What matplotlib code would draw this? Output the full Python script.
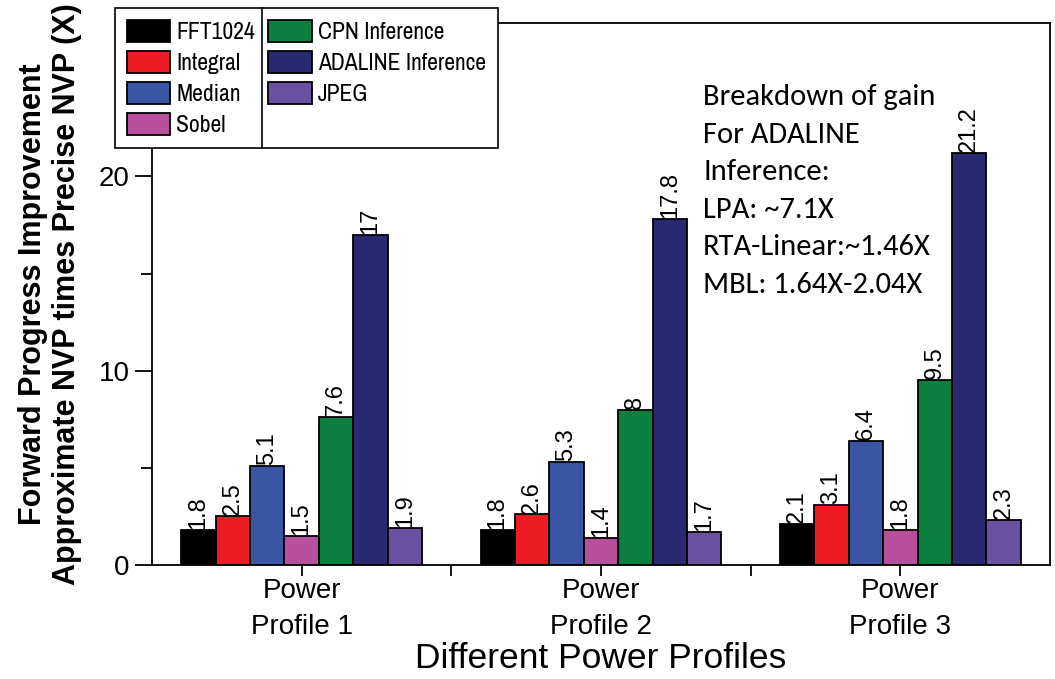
import matplotlib
matplotlib.use("Agg")
import matplotlib.pyplot as plt
import numpy as np
from matplotlib.lines import Line2D
from matplotlib import font_manager
from matplotlib.font_manager import FontProperties

plt.rcParams['font.family'] = ['Liberation Sans', 'DejaVu Sans']

profiles = ["Power\nProfile 1", "Power\nProfile 2", "Power\nProfile 3"]
series_names = ["FFT1024", "Integral", "Median", "Sobel",
                "CPN Inference", "ADALINE Inference", "JPEG"]
fft1024 = [1.8, 1.8, 2.1]
integral = [2.5, 2.6, 3.1]
median = [5.1, 5.3, 6.4]
sobel = [1.5, 1.4, 1.8]
cpn = [7.6, 8, 9.5]
adaline = [17, 17.8, 21.2]
jpeg = [1.9, 1.7, 2.3]
values = [fft1024, integral, median, sobel, cpn, adaline, jpeg]
colors = ["#000000", "#ED1C24", "#3A55A4", "#B9509E",
          "#0A7F3F", "#2A2A72", "#6A51A1"]
note = "Breakdown of gain\nFor ADALINE\nInference:\nLPA: ~7.1X\nRTA-Linear:~1.46X\nMBL: 1.64X-2.04X"

# legend font: condensed Arial-like if available
narrow = [f for f in font_manager.fontManager.ttflist
          if 'narrow' in f.name.lower() and f.style == 'normal'
          and f.weight in (400, 'normal', 'regular')]
if narrow:
    leg_prop = FontProperties(fname=narrow[0].fname, size=17)
else:
    leg_prop = FontProperties(family=['Liberation Sans', 'DejaVu Sans'], size=15)

names = {f.name for f in font_manager.fontManager.ttflist}
note_family = 'Carlito' if 'Carlito' in names else 'Lato'
note_size = 22 if note_family == 'Carlito' else 21.3

fig = plt.figure(figsize=(10.55, 6.79), dpi=100)
ax = fig.add_axes([152/1055, 1-565/679, (1050-152)/1055, (565-23)/679])

x = np.arange(1, 4)
w = 0.115
n = len(series_names)
for i, (name, vals, c) in enumerate(zip(series_names, values, colors)):
    pos = x + (i - (n - 1) / 2) * w
    ax.bar(pos, vals, width=w, color=c, edgecolor="black", linewidth=1.3, label=name)
    for p, v in zip(pos, vals):
        ax.text(p, v + 0.05, f"{v:g}", rotation=90, ha="center", va="bottom", fontsize=17)

ax.set_xlim(0.5, 3.5)
ax.set_ylim(0, 27.9)
ax.set_xticks(x)
ax.set_xticklabels(profiles, fontsize=20, linespacing=1.5)
ax.set_xticks([1.5, 2.5], minor=True)
ax.set_yticks([0, 10, 20])
ax.set_yticks([5, 15, 25], minor=True)
ax.tick_params(axis='y', labelsize=20, direction='out', length=12, width=1.3, pad=4)
ax.tick_params(axis='y', which='minor', direction='out', length=8, width=1.3)
ax.tick_params(axis='x', direction='out', length=8, width=1.3, pad=1)
ax.tick_params(axis='x', which='minor', direction='out', length=8, width=1.3)
for s in ax.spines.values():
    s.set_linewidth(1.3)

ax.set_ylabel("Forward Progress Improvement\nApproximate NVP times Precise NVP (X)",
              fontsize=22, fontweight='bold', linespacing=1.2, labelpad=12)
ax.set_xlabel("Different Power Profiles", fontsize=25.5, labelpad=2)

ax.text(703/1055, 1-84/679, note,
        transform=fig.transFigure, fontsize=note_size, family=[note_family, 'DejaVu Sans'],
        va='top', ha='left', linespacing=1.55)

leg = fig.legend(loc='upper left', bbox_to_anchor=(115/1055, 1-8/679), ncol=2,
                 frameon=True, fancybox=False, edgecolor='black',
                 framealpha=1, borderaxespad=0, borderpad=0.5, handlelength=1.85,
                 handleheight=1.08, labelspacing=0.33, columnspacing=0.55,
                 handletextpad=0.25, prop=leg_prop)
leg.get_frame().set_linewidth(1.2)

fig.canvas.draw()
renderer = fig.canvas.get_renderer()
texts = leg.get_texts()
col1_right = max(t.get_window_extent(renderer).x1 for t in texts[:4])
col2_left = min(h.get_window_extent(renderer).x0 for h in leg.legend_handles[4:])
fb = leg.get_frame().get_window_extent(renderer)
xdiv = (col1_right + col2_left) / 2
inv = fig.transFigure.inverted()
(x0f, y0f) = inv.transform((xdiv, fb.y0))
(x1f, y1f) = inv.transform((xdiv, fb.y1))
fig.add_artist(Line2D([x0f, x1f], [y0f, y1f], transform=fig.transFigure,
                      color='black', linewidth=1.2, zorder=10))

fig.savefig("out.png", dpi=100)
